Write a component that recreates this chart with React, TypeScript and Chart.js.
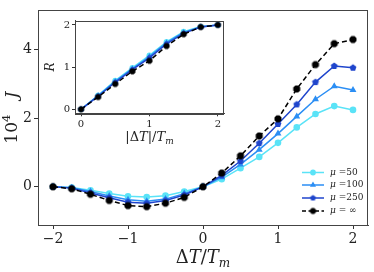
import React, { useEffect, useRef } from 'react';
import { Chart, registerables } from 'chart.js';
import { drawPoint } from 'chart.js/helpers';
Chart.register(...registerables);

const FAMILY = '"DejaVu Serif", serif';

// ---- data ----
const dT = [-2, -1.75, -1.5, -1.25, -1, -0.75, -0.5, -0.25, 0, 0.25, 0.5, 0.75, 1, 1.25, 1.5, 1.75, 2];
const J_mu50 = [0, -0.02, -0.1, -0.2, -0.28, -0.3, -0.26, -0.14, 0, 0.22, 0.54, 0.87, 1.28, 1.73, 2.12, 2.35, 2.24];
const J_mu100 = [0, -0.03, -0.14, -0.27, -0.38, -0.42, -0.36, -0.2, 0, 0.28, 0.65, 1.08, 1.55, 2.05, 2.55, 2.93, 2.82];
const J_mu250 = [0, -0.04, -0.18, -0.32, -0.45, -0.48, -0.4, -0.24, 0, 0.33, 0.75, 1.27, 1.83, 2.4, 3.05, 3.52, 3.47];
const J_muInf = [0, -0.06, -0.22, -0.4, -0.55, -0.58, -0.48, -0.31, 0, 0.4, 0.9, 1.48, 1.98, 2.85, 3.56, 4.17, 4.29];

const absDT = [0, 0.25, 0.5, 0.75, 1, 1.25, 1.5, 1.75, 2];
const R_mu50 = [0, 0.33, 0.68, 0.98, 1.28, 1.6, 1.84, 1.96, 2.0];
const R_mu100 = [0, 0.32, 0.66, 0.96, 1.25, 1.58, 1.82, 1.95, 2.0];
const R_mu250 = [0, 0.31, 0.64, 0.94, 1.22, 1.55, 1.8, 1.95, 2.0];
const R_muInf = [0, 0.29, 0.6, 0.9, 1.15, 1.5, 1.78, 1.95, 2.0];

const muLabels = ['50', '100', '250', '\u221E'];
const xTicks = [-2, -1, 0, 1, 2];
const yTicks = [0, 2, 4];
const insetTicks = [0, 1, 2];

// ---- styles ----
const COLORS = ['#5ae3f7', '#2b8ef4', '#1f45cc', '#000000'];

function polygonMarker(n: number, r: number, color: string, offset = 0) {
  const size = Math.ceil(2 * r + 2);
  const c = document.createElement('canvas');
  c.width = size;
  c.height = size;
  const g = c.getContext('2d')!;
  g.fillStyle = color;
  g.beginPath();
  for (let i = 0; i < n; i++) {
    const a = -Math.PI / 2 + offset + (i * 2 * Math.PI) / n;
    const px = size / 2 + r * Math.cos(a);
    const py = size / 2 + r * Math.sin(a);
    if (i) g.lineTo(px, py);
    else g.moveTo(px, py);
  }
  g.closePath();
  g.fill();
  return c;
}

type Run = { t: string; it?: boolean; size: number; dy?: number };
function drawRuns(ctx: CanvasRenderingContext2D, runs: Run[], x: number, y: number, align: 'left' | 'center') {
  let w = 0;
  for (const r of runs) {
    ctx.font = `${r.it ? 'italic ' : ''}${r.size}px ${FAMILY}`;
    w += ctx.measureText(r.t).width;
  }
  let cx = align === 'center' ? x - w / 2 : x;
  ctx.textAlign = 'left';
  for (const r of runs) {
    ctx.font = `${r.it ? 'italic ' : ''}${r.size}px ${FAMILY}`;
    ctx.fillText(r.t, cx, y + (r.dy || 0));
    cx += ctx.measureText(r.t).width;
  }
}

const fmt = (v: any) => (Number(v) < 0 ? '\u2212' + Math.abs(Number(v)) : String(v));

export default function App() {
  const mainRef = useRef<HTMLCanvasElement>(null);
  const insetRef = useRef<HTMLCanvasElement>(null);

  useEffect(() => {
    const m250 = polygonMarker(5, 3.6, COLORS[2]);
    const mInf = polygonMarker(8, 3.8, COLORS[3], Math.PI / 8);
    const m250s = polygonMarker(5, 3.1, COLORS[2]);
    const mInfs = polygonMarker(8, 3.3, COLORS[3], Math.PI / 8);
    const pointStyles: any[] = ['circle', 'triangle', m250, mInf];
    const pointStylesSmall: any[] = ['circle', 'triangle', m250s, mInfs];
    const radii = [3.3, 4, 3.6, 3.8];
    const radiiSmall = [2.9, 3.5, 3.1, 3.3];

    const mainSeries = [J_mu50, J_mu100, J_mu250, J_muInf];
    const insetSeries = [R_mu50, R_mu100, R_mu250, R_muInf];

    const mkDatasets = (xs: number[], series: number[][], small: boolean) =>
      series.map((ys, i) => ({
        label: muLabels[i],
        data: xs.map((x, k) => ({ x, y: ys[k] })),
        borderColor: COLORS[i],
        backgroundColor: COLORS[i],
        pointBackgroundColor: COLORS[i],
        pointBorderColor: COLORS[i],
        pointBorderWidth: 0,
        borderWidth: 1.5,
        borderDash: i === 3 ? [5, 3] : [],
        pointStyle: small ? pointStylesSmall[i] : pointStyles[i],
        pointRadius: small ? radiiSmall[i] : radii[i],
        tension: 0,
        order: 3 - i,
      }));

    const axisCommon = (fontSize: number, tickLen: number) => ({
      type: 'linear' as const,
      ticks: {
        callback: fmt,
        font: { family: FAMILY, size: fontSize },
        color: '#222',
        padding: 2,
        maxRotation: 0,
        autoSkip: false,
      },
      grid: { display: true, drawOnChartArea: false, drawTicks: true, tickLength: tickLen, color: '#333', lineWidth: 1 },
      border: { display: true, color: '#444' },
    });

    const framePlugin = {
      id: 'frame',
      beforeDraw(chart: any, _a: any, opts: any) {
        if (opts && opts.fill) {
          const { left, top, right, bottom } = chart.chartArea;
          chart.ctx.save();
          chart.ctx.fillStyle = '#fff';
          chart.ctx.fillRect(left, top, right - left, bottom - top);
          chart.ctx.restore();
        }
      },
      afterDraw(chart: any) {
        const { left, top, right, bottom } = chart.chartArea;
        const ctx = chart.ctx as CanvasRenderingContext2D;
        ctx.save();
        ctx.strokeStyle = '#444';
        ctx.lineWidth = 1;
        ctx.strokeRect(Math.round(left) + 0.5, Math.round(top) + 0.5, Math.round(right - left) - 1, Math.round(bottom - top));
        ctx.restore();
      },
    };

    const mainLabels = {
      id: 'mainLabels',
      afterDraw(chart: any) {
        const ctx = chart.ctx as CanvasRenderingContext2D;
        const ca = chart.chartArea;
        ctx.save();
        ctx.fillStyle = '#222';
        ctx.textBaseline = 'alphabetic';
        drawRuns(
          ctx,
          [
            { t: '\u0394', size: 18 },
            { t: 'T', it: true, size: 18 },
            { t: '/', size: 18 },
            { t: 'T', it: true, size: 18 },
            { t: 'm', it: true, size: 12, dy: 3.5 },
          ],
          (ca.left + ca.right) / 2,
          263,
          'center'
        );
        ctx.translate(17, (ca.top + ca.bottom) / 2);
        ctx.rotate(-Math.PI / 2);
        drawRuns(
          ctx,
          [
            { t: '10', size: 17 },
            { t: '4', size: 11.5, dy: -7 },
            { t: '   ', size: 17 },
            { t: 'J', it: true, size: 17 },
          ],
          0,
          0,
          'center'
        );
        ctx.restore();

        const rows = [172.5, 185, 198, 211];
        ctx.save();
        for (let i = 0; i < 4; i++) {
          const y = rows[i];
          ctx.strokeStyle = COLORS[i];
          ctx.fillStyle = COLORS[i];
          ctx.lineWidth = 1.5;
          ctx.setLineDash(i === 3 ? [4, 2.5] : []);
          ctx.beginPath();
          ctx.moveTo(302, y);
          ctx.lineTo(324, y);
          ctx.stroke();
          ctx.setLineDash([]);
          drawPoint(ctx, { pointStyle: pointStylesSmall[i], radius: radiiSmall[i], rotation: 0, borderWidth: 0 } as any, 313, y);
          ctx.fillStyle = '#222';
          ctx.textBaseline = 'middle';
          drawRuns(
            ctx,
            [
              { t: '\u03BC', it: true, size: 9 },
              { t: i === 3 ? ' = ' + muLabels[i] : ' =' + muLabels[i], size: 9 },
            ],
            330,
            y,
            'left'
          );
        }
        ctx.restore();
      },
    };

    const mainChart = new Chart(mainRef.current!, {
      type: 'line',
      data: { datasets: mkDatasets(dT, mainSeries, false) as any },
      options: {
        animation: false,
        responsive: false,
        devicePixelRatio: 1,
        layout: { padding: { top: 4, right: 6, left: 0, bottom: 0 } },
        plugins: { legend: { display: false }, tooltip: { enabled: false }, frame: { fill: false } } as any,
        scales: {
          x: {
            ...axisCommon(14, 4),
            min: -2.2,
            max: 2.2,
            afterBuildTicks: (s: any) => {
              s.ticks = xTicks.map((v) => ({ value: v }));
            },
            afterFit: (s: any) => {
              s.height = 47;
            },
          },
          y: {
            ...axisCommon(14, 4),
            min: -1.115,
            max: 5.14,
            afterBuildTicks: (s: any) => {
              s.ticks = yTicks.map((v) => ({ value: v }));
            },
            afterFit: (s: any) => {
              s.width = 38;
            },
          },
        } as any,
      },
      plugins: [framePlugin, mainLabels],
    });

    const insetLabels = {
      id: 'insetLabels',
      afterDraw(chart: any) {
        const ctx = chart.ctx as CanvasRenderingContext2D;
        const ca = chart.chartArea;
        ctx.save();
        ctx.fillStyle = '#222';
        ctx.textBaseline = 'alphabetic';
        drawRuns(
          ctx,
          [
            { t: '|\u0394', size: 13 },
            { t: 'T', it: true, size: 13 },
            { t: '|/', size: 13 },
            { t: 'T', it: true, size: 13 },
            { t: 'm', it: true, size: 9, dy: 2.5 },
          ],
          (ca.left + ca.right) / 2,
          131,
          'center'
        );
        ctx.translate(14, (ca.top + ca.bottom) / 2);
        ctx.rotate(-Math.PI / 2);
        drawRuns(ctx, [{ t: 'R', it: true, size: 12 }], 0, 0, 'center');
        ctx.restore();
      },
    };

    const insetChart = new Chart(insetRef.current!, {
      type: 'line',
      data: { datasets: mkDatasets(absDT, insetSeries, true) as any },
      options: {
        animation: false,
        responsive: false,
        devicePixelRatio: 1,
        layout: { padding: { top: 10.7, right: 16, left: 0, bottom: 0 } },
        plugins: { legend: { display: false }, tooltip: { enabled: false }, frame: { fill: true } } as any,
        scales: {
          x: {
            ...axisCommon(10, 3),
            min: -0.088,
            max: 2.09,
            afterBuildTicks: (s: any) => {
              s.ticks = insetTicks.map((v) => ({ value: v }));
            },
            afterFit: (s: any) => {
              s.height = 36.7;
            },
          },
          y: {
            ...axisCommon(10, 3),
            min: -0.095,
            max: 2.1,
            afterBuildTicks: (s: any) => {
              s.ticks = insetTicks.map((v) => ({ value: v }));
            },
            afterFit: (s: any) => {
              s.width = 35;
            },
          },
        } as any,
      },
      plugins: [framePlugin, insetLabels],
    });

    return () => {
      mainChart.destroy();
      insetChart.destroy();
    };
  }, []);

  return (
    <div style={{ position: 'fixed', left: 0, top: 0, width: 374, height: 272, background: '#fff' }}>
      <canvas ref={mainRef} width={374} height={272} style={{ position: 'absolute', left: 0, top: 0, width: 374, height: 272 }} />
      <canvas ref={insetRef} width={200} height={140} style={{ position: 'absolute', left: 40, top: 10, width: 200, height: 140 }} />
    </div>
  );
}
